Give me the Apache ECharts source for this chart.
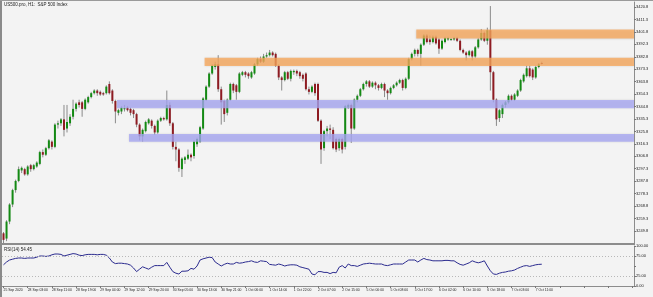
<!DOCTYPE html>
<html><head><meta charset="utf-8">
<script src="https://cdn.jsdelivr.net/npm/echarts@6/dist/echarts.min.js"></script>
<style>html,body{margin:0;padding:0;background:#f3f3f3;}#c{width:653px;height:297px;}</style>
</head><body><div id="c"></div>
<script>
const tickLabels = ['25 Sep 2020','28 Sep 03:00','28 Sep 11:00','28 Sep 19:00','29 Sep 04:00','29 Sep 12:00','29 Sep 20:00','30 Sep 05:00','30 Sep 13:00','30 Sep 21:00','1 Oct 06:00','1 Oct 14:00','1 Oct 22:00','2 Oct 07:00','2 Oct 15:00','5 Oct 00:00','5 Oct 08:00','5 Oct 17:00','6 Oct 02:00','6 Oct 10:00','6 Oct 18:00','7 Oct 03:00','7 Oct 11:00'];

const opens = [3248,3244,3257,3270,3281,3288,3296,3297,3293,3300,
3297,3299,3301,3310,3308,3313,3318,3314,3331,3332,
3335,3328,3332,3337,3343,3348,3348,3343,3348,3352,
3355,3357,3356,3355,3355,3362,3357,3349,3340,3341,
3343,3344,3343,3342,3339,3331,3322,3326,3332,3334,
3330,3325,3334,3336,3335,3346,3332,3314,3312,3297,
3304,3305,3308,3307,3316,3318,3328,3350,3360,3370,
3375,3377,3358,3349,3340,3350,3362,3361,3356,3369,
3371,3370,3367,3370,3377,3381,3379,3383,3384,3386,
3385,3376,3367,3365,3371,3366,3371,3372,3371,3369,
3370,3358,3356,3362,3362,3334,3313,3326,3328,3327,
3320,3313,3320,3314,3344,3346,3328,3350,3353,3358,
3362,3364,3360,3363,3361,3359,3362,3357,3355,3359,
3361,3363,3365,3359,3366,3381,3385,3388,3385,3392,
3399,3396,3394,3398,3396,3389,3394,3396,3396,3396,
3397,3395,3388,3386,3384,3387,3383,3390,3396,3401,
3395,3403,3371,3350,3336,3339,3346,3348,3353,3350,
3353,3357,3364,3368,3374,3373,3367,3375,3378];
const closes = [3243,3257,3270,3281,3288,3297,3298,3293,3299,3297,
3300,3302,3310,3308,3313,3319,3314,3331,3332,3335,
3327,3333,3337,3343,3347,3346,3343,3350,3352,3355,
3357,3355,3354,3354,3360,3355,3349,3341,3342,3344,
3343.5,3342,3340,3339,3331,3322,3327,3333,3335,3330,
3325,3334,3336,3335,3346,3332,3314,3312,3298,3305,
3306,3308,3306,3318,3320,3329,3351,3360,3370,3376,
3377,3358,3348,3339,3350,3362,3357,3356,3370,3371,
3369,3368,3371,3377,3381,3379,3383,3384,3386,3384,
3376,3367,3365,3371,3366,3372,3372,3370,3368,3366,
3358,3356,3360,3355,3334,3312,3326,3328,3327,3313,
3312,3320,3312,3345,3346,3328,3350,3353,3358,3362,
3364,3360,3363,3361,3359,3362,3357,3355,3359,3361,
3363,3365,3359,3366,3381,3385,3388,3385,3392,3399,
3394,3394,3398,3393,3389,3395,3397,3397,3396.3,3397,
3395,3388,3386,3384,3387,3383,3390,3396,3401,3395,
3403,3371,3350,3335,3342,3346,3348,3353,3350,3354,
3357,3365,3369,3374,3368,3367,3375,3377,3377.5];
const lows = [3240,3242,3255,3268,3279,3287,3294,3292,3292,3295,
3296,3298,3300,3306,3307,3312,3312,3313,3328,3330,
3322,3325,3330,3335,3341,3344,3337,3342,3347,3351,
3354,3353,3353,3353,3354,3354,3347,3332,3338,3339,
3341,3341,3338,3336,3329,3319,3318,3325,3331,3328,
3323,3324,3333,3334,3334,3330,3312,3303,3295,3291,
3301,3304,3303,3305,3314,3317,3327,3349,3359,3369,
3373,3356,3331,3333,3338,3349,3355,3350,3355,3368,
3367,3366,3366,3369,3376,3378,3378,3382,3383,3383,
3375,3365,3357,3364,3365,3364,3369,3368,3366,3364,
3357,3354,3355,3353,3333,3301,3311,3322,3320,3312,
3310,3311,3309,3312,3343,3317,3327,3348,3352,3357,
3360,3359,3359,3358,3357,3358,3352,3350,3354,3358,
3360,3362,3357,3358,3365,3380,3383,3383,3376,3391,
3393,3392,3393,3392,3385,3388,3393,3395,3395,3395,
3394,3387,3385,3380,3383,3380,3382,3389,3395,3394,
3392,3357,3348,3330,3333,3336,3344,3347,3349,3349,
3352,3356,3363,3367,3367,3365,3366,3374,3377];
const highs = [3249,3258,3271,3282,3289,3299,3299,3298,3300,3301,
3301,3303,3311,3312,3314,3320,3319,3332,3334,3336,
3346,3346,3339,3350,3348,3350,3349,3351,3353,3356,
3358,3358,3357,3356,3361,3364,3358,3350,3343,3345,
3346,3345,3344,3343,3340,3332,3328,3334,3336,3335,
3331,3335,3337,3337,3357,3348,3333,3318,3313,3306,
3307,3312,3309,3319,3321,3330,3352,3361,3371,3377,
3379,3384,3360,3350,3351,3363,3363,3362,3371,3372,
3372,3371,3372,3378,3382,3383,3385,3386,3388,3387,
3386,3377,3368,3372,3372,3373,3373,3373,3372,3370,
3371,3360,3361,3363,3363,3335,3327,3330,3331,3329,
3321,3321,3321,3346,3347,3347,3351,3354,3359,3363,
3365,3365,3364,3364,3362,3363,3363,3358,3360,3362,
3364,3366,3366,3367,3382,3386,3389,3389,3393,3400,
3400,3399,3399,3399,3397,3396,3398,3398,3397,3398,
3398,3396,3389,3387,3388,3388,3391,3397,3404,3402,
3405,3421.5,3372,3351,3343,3347,3349,3354,3354,3355,
3358,3366,3370,3376,3376,3374,3376,3378,3379];
const rsiValues = [53,60,65,67,69,70,70,69,70,70,70,
72,75,75,74,75,78,80,80,79,75,
77,79,81,80,77,76,78,79,79,79,
78,79,79,77,70,60,56,57,57,56,
55,52,45,36,42,48,45,42,47,51,
51,51,51,59,47,36,32,30,37,37,
38,44,42,50,65,68,70,72,71,60,
55,50,54,57,55,55,59,57,58,60,
61,63,60,59,63,62,61,54,53,52,
55,53,50,52,53,53,52,48,46,44,
42,30,28,36,36,34,34,31,34,33,
47,51,45,55,51,51,49,52,55,56,
57,56,55,55,55,52,51,53,55,55,
55,55,60,65,65,65,60,65,69,66,
65,63,63,63,63,64,64,63,63,58,
54,52,55,58,63,60,58,60,63,50,
38,30,29,32,34,35,37,38,40,44,
47,50,51,49,51,53,54,54.45];
const rsiTicks = [0, 25, 50, 75, 100];
const zoneTop = [3403.6, 3382.0, 3349.8, 3323.8];
const zoneBottom = [3396.7, 3375.7, 3343.4, 3317.9];
const zoneStart = [137, 67, 38, 42];
const zoneKind = ['orange', 'orange', 'blue', 'blue'];

const SLOTS = 209;
const cats = Array.from({length: SLOTS}, (_, i) => String(i));
const candleData = opens.map((o, i) => [i, o, closes[i], lows[i], highs[i]]);
const zoneData = zoneStart.map((s, k) => [s, zoneTop[k], zoneBottom[k], k]);
const rsiData = rsiValues.map((v, i) => [i, v]);

const GREEN = '#138a13', RED = '#8e1b22', WICK = '#8a8a8a';
const FONT = 'Liberation Sans';
const chart = echarts.init(document.getElementById('c'), null, {renderer: 'canvas'});
chart.setOption({
  backgroundColor: '#f3f3f3',
  animation: false,
  grid: [
    {left: 2, right: 19, top: 2, height: 241.4, show: false},
    {left: 2, right: 19, top: 246, height: 40, show: false}
  ],
  xAxis: [
    {type: 'category', gridIndex: 0, data: cats, boundaryGap: true,
     axisLine: {show: false}, axisTick: {show: false}, axisLabel: {show: false}, splitLine: {show: false}},
    {type: 'category', gridIndex: 1, data: cats, boundaryGap: true,
     axisLine: {show: true, lineStyle: {color: '#8c8c8c', width: 1}},
     axisTick: {show: true, interval: 7, alignWithLabel: true, length: 2, lineStyle: {color: '#777'}},
     axisLabel: {show: true, interval: 7, align: 'left', margin: 3, fontSize: 3.4, fontFamily: FONT, color: '#222',
       formatter: (v, idx) => { const k = idx / 8; return (Number.isInteger(k) && k < tickLabels.length) ? tickLabels[k] : ''; }},
     splitLine: {show: false}}
  ],
  yAxis: [
    {type: 'value', gridIndex: 0, position: 'right', min: 3240.3, max: 3424.6, interval: 9.5, scale: true,
     axisLine: {show: true, lineStyle: {color: '#8c8c8c', width: 1}},
     axisTick: {show: true, length: 2, lineStyle: {color: '#777'}},
     axisLabel: {show: true, margin: 2, fontSize: 4, fontFamily: FONT, color: '#222', showMinLabel: false, showMaxLabel: false,
       formatter: v => v.toFixed(1)},
     splitLine: {show: false}},
    {type: 'value', gridIndex: 1, position: 'right', min: 0, max: 100, interval: 25,
     axisLine: {show: true, lineStyle: {color: '#8c8c8c', width: 1}},
     axisTick: {show: true, length: 2, lineStyle: {color: '#777'}},
     axisLabel: {show: true, margin: 2, fontSize: 4, fontFamily: FONT, color: '#222',
       formatter: v => (v === 50 ? '' : v.toFixed(2))},
     splitLine: {show: false}}
  ],
  series: [
    {type: 'custom', name: 'candles', xAxisIndex: 0, yAxisIndex: 0, data: candleData, encode: {x: 0, y: [1, 2, 3, 4]}, z: 2,
     renderItem: (params, api) => {
       const i = api.value(0), o = api.value(1), c = api.value(2), l = api.value(3), h = api.value(4);
       const pO = api.coord([i, o]), pC = api.coord([i, c]), pL = api.coord([i, l]), pH = api.coord([i, h]);
       const x = pO[0];
       const top = Math.min(pO[1], pC[1]), hgt = Math.max(1, Math.abs(pO[1] - pC[1]));
       return {type: 'group', children: [
         {type: 'line', shape: {x1: x, y1: pH[1], x2: x, y2: pL[1]}, style: {stroke: WICK, lineWidth: 1}},
         {type: 'rect', shape: {x: x - 1, y: top, width: 2, height: hgt}, style: {fill: c >= o ? GREEN : RED}}
       ]};
     }},
    {type: 'custom', name: 'zones', xAxisIndex: 0, yAxisIndex: 0, data: zoneData, encode: {x: 0, y: [1, 2]}, z: 3,
     renderItem: (params, api) => {
       const s = api.value(0), t = api.value(1), b = api.value(2), k = api.value(3);
       const p1 = api.coord([s, t]), p2 = api.coord([s, b]);
       const slot = api.size([1, 0])[0];
       const left = p1[0] - slot / 2;
       const right = params.coordSys.x + params.coordSys.width;
       const col = zoneKind[k] === 'orange' ? 'rgba(250,166,86,0.75)' : 'rgba(166,166,246,0.75)';
       return {type: 'rect', shape: {x: left, y: p1[1], width: right - left, height: p2[1] - p1[1]},
               style: {fill: col, shadowBlur: 2, shadowColor: 'rgba(120,120,120,0.35)'}};
     }},
    {type: 'line', name: 'RSI', xAxisIndex: 1, yAxisIndex: 1, data: rsiData, showSymbol: false, symbol: 'none',
     lineStyle: {color: '#2b2b8f', width: 1},
     markLine: {silent: true, symbol: 'none', label: {show: false},
       lineStyle: {color: '#b8b8b8', type: [1, 2], width: 1},
       data: [{yAxis: rsiTicks[3]}, {yAxis: rsiTicks[1]}]}}
  ],
  graphic: [
    {type: 'rect', shape: {x: 0, y: 0, width: 2, height: 297}, style: {fill: '#8a8a8a'}, z: 10},
    {type: 'rect', shape: {x: 0, y: 0, width: 653, height: 1}, style: {fill: '#9a9a9a'}, z: 10},
    {type: 'rect', shape: {x: 0, y: 243, width: 635, height: 2}, style: {fill: '#8c8c8c'}, z: 10},
    {type: 'text', left: 4, top: 2, style: {text: 'US500.pro, H1:  S&P 500 Index', fontSize: 4.5, fontFamily: FONT, fill: '#222'}, z: 10},
    {type: 'text', left: 4, top: 247, style: {text: 'RSI(14) 54.45', fontSize: 4.5, fontFamily: FONT, fill: '#222'}, z: 10}
  ]
});
</script></body></html>
